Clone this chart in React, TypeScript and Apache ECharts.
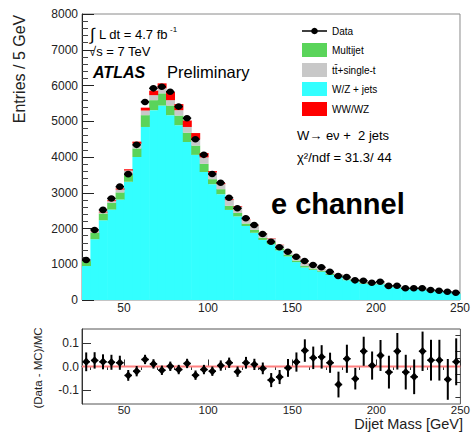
import React, { useEffect, useRef } from "react";
import * as echarts from "echarts";

// ---- data (5 GeV bins from 25 to 250 GeV) ----
const binLow = [25, 30, 35, 40, 45, 50, 55, 60, 65, 70, 75, 80, 85, 90, 95, 100, 105, 110, 115, 120, 125, 130, 135, 140, 145, 150, 155, 160, 165, 170, 175, 180, 185, 190, 195, 200, 205, 210, 215, 220, 225, 230, 235, 240, 245];
const binWidth = 5;

const dataCounts = [1120, 1960, 2520, 2840, 3170, 3520, 4340, 5540, 5920, 5965, 5825, 5410, 5085, 4495, 4060, 3525, 3280, 2860, 2565, 2285, 2100, 1845, 1630, 1475, 1350, 1210, 1090, 980, 915, 792, 671, 640, 550, 540, 484, 510, 395, 400, 327, 327, 327, 280, 260, 232, 204];

const wzJets = [950, 1700, 2230, 2530, 2810, 3310, 4000, 4840, 5310, 5440, 5170, 4890, 4420, 4060, 3580, 3240, 2960, 2520, 2340, 2070, 1880, 1680, 1560, 1390, 1220, 1060, 910, 845, 790, 700, 655, 555, 520, 455, 435, 440, 365, 340, 302, 310, 278, 247, 229, 222, 181];
const multijet = [140, 185, 190, 190, 200, 200, 240, 330, 280, 340, 270, 270, 260, 260, 230, 140, 140, 115, 95, 70, 80, 60, 60, 55, 45, 45, 40, 35, 30, 28, 25, 22, 20, 18, 17, 16, 14, 13, 12, 12, 11, 10, 9, 9, 8];
const topSingleT = [5, 15, 30, 45, 80, 110, 130, 130, 140, 140, 150, 150, 160, 170, 180, 185, 140, 160, 170, 95, 110, 110, 100, 92, 85, 75, 65, 60, 55, 48, 44, 40, 37, 32, 28, 29, 24, 21, 19, 18, 16, 15, 14, 13, 10];
const diboson = [3, 10, 20, 25, 30, 40, 60, 80, 125, 140, 230, 170, 180, 180, 120, 40, 30, 20, 18, 15, 12, 10, 10, 8, 8, 7, 6, 5, 4, 4, 3, 3, 3, 2, 2, 2, 2, 2, 2, 2, 2, 1, 1, 1, 1];

const ratioVals = [0.020, 0.026, 0.020, 0.018, 0.016, -0.038, -0.020, 0.030, 0.011, -0.016, 0.001, -0.013, 0.013, -0.037, -0.013, -0.020, 0.004, 0.016, -0.022, 0.016, 0.009, -0.008, -0.058, -0.045, -0.006, 0.019, 0.068, 0.037, 0.041, 0.016, -0.077, 0.033, -0.052, 0.065, 0.004, 0.047, -0.024, 0.065, -0.024, -0.044, 0.065, 0.027, 0.027, -0.055, 0.020];
const ratioErrs = [0.04, 0.035, 0.032, 0.032, 0.03, 0.023, 0.022, 0.02, 0.02, 0.02, 0.02, 0.02, 0.02, 0.02, 0.02, 0.02, 0.022, 0.022, 0.022, 0.025, 0.024, 0.025, 0.03, 0.03, 0.038, 0.041, 0.048, 0.048, 0.05, 0.043, 0.055, 0.06, 0.046, 0.062, 0.06, 0.066, 0.07, 0.078, 0.074, 0.074, 0.084, 0.087, 0.087, 0.087, 0.1];

const xTickValues = [50, 100, 150, 200, 250];
const xMinorValues = [30, 40, 60, 70, 80, 90, 110, 120, 130, 140, 160, 170, 180, 190, 210, 220, 230, 240];
const ratioTickValues = [-0.1, 0, 0.1];
const ratioMinorValues = [-0.1333, -0.0667, -0.0333, 0.0333, 0.0667, 0.1333];

const FONT = "'Liberation Sans', Arial, Helvetica, sans-serif";
const C_CYAN = "#33ffff";
const C_GREEN = "#5ad45a";
const C_GREY = "#c8c8c8";
const C_RED = "#ff0000";

function stackSeries(name: string, values: number[], below: number[][], color: string) {
  const data = values.map((v, i) => {
    let b = 0;
    below.forEach((arr) => (b += arr[i]));
    return [binLow[i], binLow[i] + binWidth, b, b + v];
  });
  return {
    type: "custom",
    name,
    xAxisIndex: 0,
    yAxisIndex: 0,
    z: 2,
    encode: { x: [0, 1], y: [2, 3] },
    data,
    renderItem: (_p: any, api: any) => {
      const p0 = api.coord([api.value(0), api.value(3)]);
      const p1 = api.coord([api.value(1), api.value(2)]);
      return {
        type: "rect",
        shape: { x: p0[0], y: p0[1], width: p1[0] - p0[0] + 0.6, height: p1[1] - p0[1] },
        style: { fill: color },
      };
    },
  };
}

export default function App() {
  const ref = useRef<HTMLDivElement>(null);
  useEffect(() => {
    if (!ref.current) return;
    const chart = echarts.init(ref.current, undefined, { renderer: "svg" });

    const dataPts = dataCounts.map((v, i) => [binLow[i], binLow[i] + binWidth, v]);
    const ratioPts = ratioVals.map((r, i) => [binLow[i], binLow[i] + binWidth, r, ratioErrs[i]]);

    const labelStyle = { fontFamily: FONT, fontSize: 12, color: "#222" };

    const option: any = {
      animation: false,
      grid: [
        { left: 82, top: 14, width: 381, height: 286, show: true, borderColor: "#8a8a8a", borderWidth: 1 },
        { left: 82, top: 329, width: 381, height: 75, show: true, borderColor: "#555", borderWidth: 1 },
      ],
      xAxis: [
        {
          type: "value", gridIndex: 0, min: 25, max: 250,
          axisLine: { show: false },
          axisTick: { show: false },
          splitLine: { show: false },
          axisLabel: { ...labelStyle, margin: 2, customValues: xTickValues },
        },
        {
          type: "value", gridIndex: 1, min: 25, max: 250,
          axisLine: { show: true, lineStyle: { color: "#333" } },
          axisTick: { show: true, inside: true, length: 7, customValues: xTickValues, lineStyle: { color: "#333" } },
          splitLine: { show: false },
          axisLabel: { ...labelStyle, fontSize: 11.5, margin: 0, customValues: xTickValues },
        },
        {
          type: "value", gridIndex: 1, min: 25, max: 250,
          axisLine: { show: false },
          axisTick: { show: true, inside: true, length: 3.5, customValues: xMinorValues, lineStyle: { color: "#333" } },
          splitLine: { show: false },
          axisLabel: { show: false },
        },
      ],
      yAxis: [
        {
          type: "value", gridIndex: 0, min: 0, max: 8000, interval: 1000,
          axisLine: { show: true, lineStyle: { color: "#222" } },
          axisTick: { show: true, inside: true, length: 12, lineStyle: { color: "#222" } },
          minorTick: { show: true, splitNumber: 5, length: 6, lineStyle: { color: "#444" } },
          splitLine: { show: false },
          axisLabel: { ...labelStyle, margin: 4, formatter: (v: number) => String(v) },
        },
        {
          type: "value", gridIndex: 1, min: -0.16, max: 0.16,
          axisLine: { show: true, lineStyle: { color: "#333" } },
          axisTick: { show: true, inside: true, length: 9, customValues: ratioTickValues, lineStyle: { color: "#333" } },
          splitLine: { show: false },
          axisLabel: {
            ...labelStyle, margin: 3, customValues: ratioTickValues,
            formatter: (v: number) => v.toFixed(1),
          },
        },
        {
          type: "value", gridIndex: 1, min: -0.16, max: 0.16,
          axisLine: { show: false },
          axisTick: { show: true, inside: true, length: 5, customValues: ratioMinorValues, lineStyle: { color: "#333" } },
          splitLine: { show: false },
          axisLabel: { show: false },
        },
      ],
      series: [
        stackSeries("W/Z + jets", wzJets, [], C_CYAN),
        stackSeries("Multijet", multijet, [wzJets], C_GREEN),
        stackSeries("tt+single-t", topSingleT, [wzJets, multijet], C_GREY),
        stackSeries("WW/WZ", diboson, [wzJets, multijet, topSingleT], C_RED),
        {
          type: "custom", name: "Data", xAxisIndex: 0, yAxisIndex: 0, z: 5,
          encode: { x: [0, 1], y: 2 },
          data: dataPts,
          renderItem: (_p: any, api: any) => {
            const a = api.coord([api.value(0), api.value(2)]);
            const b = api.coord([api.value(1), api.value(2)]);
            const cx = (a[0] + b[0]) / 2;
            return {
              type: "group",
              children: [
                { type: "line", shape: { x1: a[0], y1: a[1], x2: b[0], y2: b[1] }, style: { stroke: "#000", lineWidth: 1.5 } },
                { type: "ellipse", shape: { cx, cy: a[1], rx: 3.8, ry: 3.3 }, style: { fill: "#000" } },
              ],
            };
          },
        },
        {
          type: "line", xAxisIndex: 1, yAxisIndex: 1, z: 3,
          data: [[25, 0], [250, 0]],
          symbol: "none",
          lineStyle: { color: "#ff8080", width: 2 },
        },
        {
          type: "custom", name: "Ratio", xAxisIndex: 1, yAxisIndex: 1, z: 5,
          encode: { x: [0, 1], y: 2 },
          data: ratioPts,
          renderItem: (_p: any, api: any) => {
            const r = api.value(2);
            const e = api.value(3);
            const a = api.coord([api.value(0), r]);
            const b = api.coord([api.value(1), r]);
            const cx = (a[0] + b[0]) / 2;
            const up = api.coord([api.value(0), r + e]);
            const dn = api.coord([api.value(0), r - e]);
            return {
              type: "group",
              children: [
                { type: "line", shape: { x1: cx, y1: up[1], x2: cx, y2: dn[1] }, style: { stroke: "#000", lineWidth: 2 } },
                { type: "line", shape: { x1: a[0] + 0.5, y1: a[1], x2: b[0] - 0.5, y2: b[1] }, style: { stroke: "#000", lineWidth: 1.5 } },
                { type: "polygon", shape: { points: [[cx, a[1] - 4.2], [cx + 3.8, a[1]], [cx, a[1] + 4.2], [cx - 3.8, a[1]]] }, style: { fill: "#000" } },
              ],
            };
          },
        },
      ],
      graphic: [
        // axis titles
        { type: "text", x: 19, y: 69, rotation: Math.PI / 2, style: { text: "Entries / 5 GeV", fontFamily: FONT, fontSize: 16, fill: "#222", align: "center", verticalAlign: "middle" } },
        { type: "text", x: 38, y: 368, rotation: Math.PI / 2, style: { text: "(Data - MC)/MC", fontFamily: FONT, fontSize: 11.5, fill: "#222", align: "center", verticalAlign: "middle" } },
        { type: "text", x: 463, y: 431.5, style: { text: "Dijet Mass [GeV]", fontFamily: FONT, fontSize: 14.5, fill: "#222", align: "right", verticalAlign: "bottom" } },
        // luminosity / energy / ATLAS
        { type: "text", x: 90, y: 34, style: { text: "\u222B", fontFamily: FONT, fontSize: 17, fill: "#000", align: "left", verticalAlign: "middle" } },
        { type: "text", x: 99, y: 34, style: { text: "L dt = 4.7 fb", fontFamily: FONT, fontSize: 13, fill: "#000", align: "left", verticalAlign: "middle" } },
        { type: "text", x: 170, y: 29, style: { text: "-1", fontFamily: FONT, fontSize: 8, fill: "#000", align: "left", verticalAlign: "middle" } },
        { type: "text", x: 89, y: 51, style: { text: "\u221As = 7 TeV", fontFamily: FONT, fontSize: 13, fill: "#000", align: "left", verticalAlign: "middle" } },
        { type: "text", x: 93, y: 72, style: { text: "ATLAS", fontFamily: FONT, fontSize: 16, fontWeight: "bold", fontStyle: "italic", fill: "#000", align: "left", verticalAlign: "middle" } },
        { type: "text", x: 167, y: 72, style: { text: "Preliminary", fontFamily: FONT, fontSize: 16.5, fill: "#000", align: "left", verticalAlign: "middle" } },
        // legend
        { type: "line", shape: { x1: 302, y1: 31, x2: 327, y2: 31 }, style: { stroke: "#000", lineWidth: 1.5 } },
        { type: "circle", shape: { cx: 314.5, cy: 31, r: 3.3 }, style: { fill: "#000" } },
        { type: "text", x: 332, y: 31, style: { text: "Data", fontFamily: FONT, fontSize: 10, fill: "#000", verticalAlign: "middle" } },
        { type: "rect", shape: { x: 302, y: 43, width: 25, height: 14 }, style: { fill: C_GREEN } },
        { type: "text", x: 332, y: 50, style: { text: "Multijet", fontFamily: FONT, fontSize: 10, fill: "#000", verticalAlign: "middle" } },
        { type: "rect", shape: { x: 302, y: 63, width: 25, height: 14 }, style: { fill: C_GREY } },
        { type: "text", x: 332, y: 70, style: { text: "tt\u0304+single-t", fontFamily: FONT, fontSize: 10, fill: "#000", verticalAlign: "middle" } },
        { type: "rect", shape: { x: 302, y: 82, width: 25, height: 14 }, style: { fill: C_CYAN } },
        { type: "text", x: 332, y: 89, style: { text: "W/Z + jets", fontFamily: FONT, fontSize: 10, fill: "#000", verticalAlign: "middle" } },
        { type: "rect", shape: { x: 302, y: 102, width: 25, height: 14 }, style: { fill: C_RED } },
        { type: "text", x: 332, y: 109, style: { text: "WW/WZ", fontFamily: FONT, fontSize: 10, fill: "#000", verticalAlign: "middle" } },
        // channel info
        { type: "text", x: 297, y: 135, style: { text: "W\u2192 e\u03BD +  2 jets", fontFamily: FONT, fontSize: 13, fill: "#000", verticalAlign: "middle" } },
        { type: "text", x: 297, y: 157, style: { text: "\u03C7\u00B2/ndf = 31.3/ 44", fontFamily: FONT, fontSize: 13, fill: "#000", verticalAlign: "middle" } },
        { type: "text", x: 271, y: 204, style: { text: "e channel", fontFamily: FONT, fontSize: 29, fontWeight: "bold", fill: "#000", verticalAlign: "middle" } },
      ],
    };
    chart.setOption(option);
    return () => chart.dispose();
  }, []);
  return <div ref={ref} style={{ width: 473, height: 432, position: "absolute", left: 0, top: 0 }} />;
}
